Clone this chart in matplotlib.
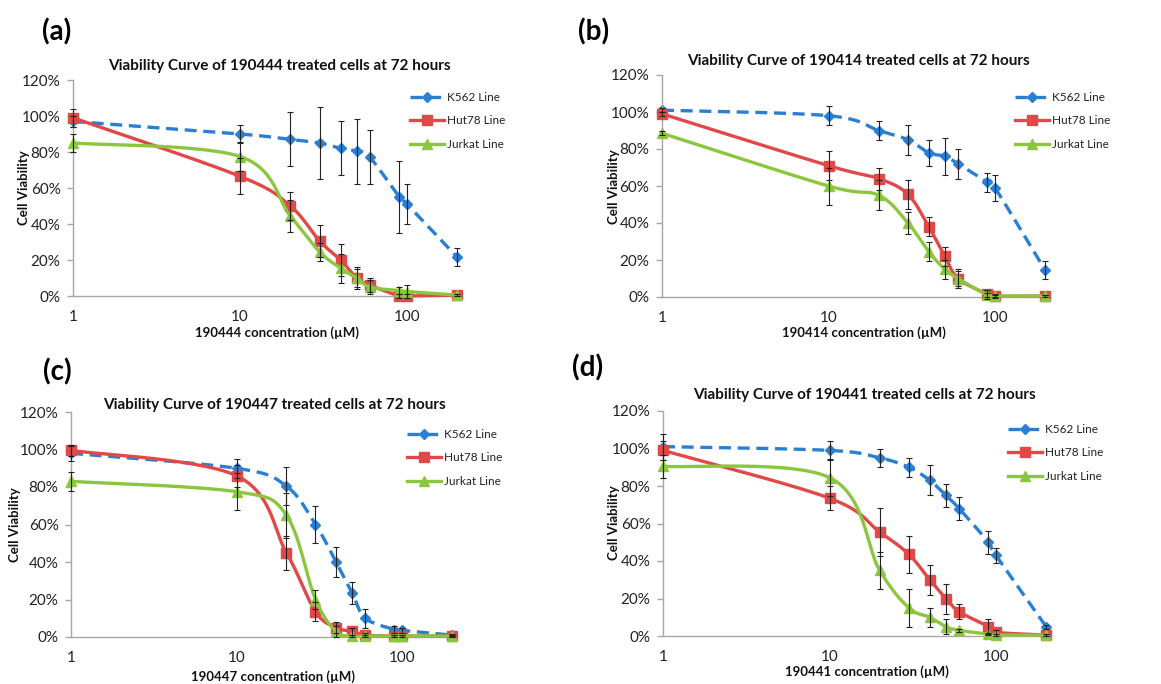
import numpy as np
import matplotlib
matplotlib.use("Agg")
import matplotlib.pyplot as plt
from matplotlib.ticker import FixedLocator, NullLocator, FuncFormatter

plt.rcParams['font.family'] = ['Lato', 'DejaVu Sans']

# ---------------- data ----------------
conc = [1, 10, 20, 30, 40, 50, 60, 90, 100, 200]
series_names = ["K562 Line", "Hut78 Line", "Jurkat Line"]

compounds = ["190444", "190414", "190447", "190441"]
panel_labels = ["(a)", "(b)", "(c)", "(d)"]

# panel (a) 190444
a_k562 = [97, 90, 87, 85, 82, 80.5, 77, 55, 51, 21.5]
a_k562_err = [3, 5, 15, 20, 15, 18, 15, 20, 11, 5]
a_hut78 = [99, 66.5, 50, 30.5, 20, 10, 6, 0, 0, 0.5]
a_hut78_err = [5, 10, 8, 9, 9, 6, 4, 1, 1, 0.5]
a_jurkat = [85, 77.5, 44.5, 24.5, 15.5, 10, 5, 3, 2.5, 0.5]
a_jurkat_err = [5, 8, 9, 5, 8, 5, 4, 2, 3.5, 0.5]

# panel (b) 190414
b_k562 = [101, 98, 90, 85, 78, 76, 72, 62, 59, 14.5]
b_k562_err = [1, 5, 5, 8, 7, 10, 8, 5, 7, 5]
b_hut78 = [99, 71, 64, 55.5, 38, 22, 10, 1.5, 0.5, 0.5]
b_hut78_err = [1, 8, 6, 8, 5, 5, 4, 2.5, 1, 0.5]
b_jurkat = [88.5, 60, 55, 40, 24.5, 15, 10, 1, 0.5, 0.5]
b_jurkat_err = [1, 10, 8, 6, 5, 5, 5, 1, 0.5, 0.5]

# panel (c) 190447
c_k562 = [98, 90, 80.5, 60, 40, 23.5, 10, 4, 3.5, 1]
c_k562_err = [4, 5, 10, 10, 8, 6, 5, 2, 1.5, 0.5]
c_hut78 = [99.5, 86, 45, 13.5, 5, 3, 1, 0.5, 0.5, 0.5]
c_hut78_err = [3, 6, 9, 5, 3, 2, 1, 0.5, 0.5, 0.5]
c_jurkat = [83, 77.5, 65, 20, 3, 0.5, 0.5, 0.5, 0.5, 0.5]
c_jurkat_err = [5, 10, 12, 5, 3, 0.5, 0.5, 0.5, 0.5, 0.5]

# panel (d) 190441
d_k562 = [101, 99, 95, 90, 83, 75, 68, 50, 43, 5]
d_k562_err = [7, 5, 5, 5, 8, 6, 6, 6, 4, 1]
d_hut78 = [99, 73.5, 55.5, 43.5, 30, 20, 13, 5, 2, 0.5]
d_hut78_err = [5, 6.5, 13, 10, 8, 8, 4, 4, 1, 0.5]
d_jurkat = [90.5, 84.5, 35, 15, 10, 5, 3, 1, 0.5, 0.5]
d_jurkat_err = [6, 10, 10, 10, 5, 4, 1, 0.5, 0.5, 0.5]

panels_data = [
    [(a_k562, a_k562_err), (a_hut78, a_hut78_err), (a_jurkat, a_jurkat_err)],
    [(b_k562, b_k562_err), (b_hut78, b_hut78_err), (b_jurkat, b_jurkat_err)],
    [(c_k562, c_k562_err), (c_hut78, c_hut78_err), (c_jurkat, c_jurkat_err)],
    [(d_k562, d_k562_err), (d_hut78, d_hut78_err), (d_jurkat, d_jurkat_err)],
]

# ---------------- layout / style ----------------
W, H = 1161, 684
fig = plt.figure(figsize=(W / 100, H / 100), dpi=100)

layout = [
    dict(ax=(73, 80, 296, 167), title=(279, 66), ylab=(24, 188), xlab=(277, 333), plab=(57, 32), leg=(410, 92)),
    dict(ax=(662, 75, 297, 166.5), title=(858, 61), ylab=(614, 187), xlab=(864, 333), plab=(594, 32), leg=(1015, 92)),
    dict(ax=(71, 412, 637, 165.5), title=(274, 405), ylab=(15, 525), xlab=(273, 677), plab=(57, 372), leg=(407, 429)),
    dict(ax=(663, 411, 636, 166.5), title=(864, 395), ylab=(614, 523), xlab=(867, 672), plab=(588, 368), leg=(1008, 424)),
]

colors = ["#2a7fd4", "#e24848", "#8cc63f"]
styles = [dict(ls=(0, (3.6, 2.0)), marker='D', ms=5.2),
          dict(ls='-', marker='s', ms=7.5),
          dict(ls='-', marker='^', ms=7.0)]
axis_gray = "#a6a6a6"
XMAX = 210


def smooth_curve(ax, x, y, n=30):
    P = ax.transData.transform(np.column_stack([x, y]))
    out = [P[0]]
    t = np.linspace(0, 1, n)[1:, None]
    for i in range(len(P) - 1):
        p0 = P[i - 1] if i > 0 else P[i]
        p1, p2 = P[i], P[i + 1]
        p3 = P[i + 2] if i + 2 < len(P) else P[i + 1]
        c1 = p1 + (p2 - p0) / 6.0
        c2 = p2 - (p3 - p1) / 6.0
        seg = (1 - t) ** 3 * p1 + 3 * (1 - t) ** 2 * t * c1 + 3 * (1 - t) * t ** 2 * c2 + t ** 3 * p2
        out.extend(seg)
    out = np.array(out)
    d = ax.transData.inverted().transform(out)
    return d[:, 0], d[:, 1]


for k in range(4):
    L = layout[k]
    left, top, bottom, dec = L['ax']
    width = dec * np.log10(XMAX)
    ax = fig.add_axes([left / W, 1 - bottom / H, width / W, (bottom - top) / H])
    ax.set_xscale('log')
    ax.set_xlim(1, XMAX)
    ax.set_ylim(0, 120)
    for s in ['top', 'right']:
        ax.spines[s].set_visible(False)
    for s in ['left', 'bottom']:
        ax.spines[s].set_color(axis_gray)
        ax.spines[s].set_linewidth(1.0)
    ax.xaxis.set_major_locator(FixedLocator([1, 10, 100]))
    ax.xaxis.set_minor_locator(NullLocator())
    ax.xaxis.set_major_formatter(FuncFormatter(lambda v, p: f"{v:g}"))
    ax.yaxis.set_major_locator(FixedLocator([0, 20, 40, 60, 80, 100, 120]))
    ax.yaxis.set_major_formatter(FuncFormatter(lambda v, p: f"{v:.0f}%"))
    ax.tick_params(axis='both', colors=axis_gray, labelcolor='#222222', labelsize=11, length=4, width=1.0)
    ax.tick_params(axis='x', pad=10, length=0)
    ax.tick_params(axis='y', pad=5)

    handles = []
    for j, (vals, errs) in enumerate(panels_data[k]):
        sx, sy = smooth_curve(ax, conc, vals)
        st = styles[j]
        ax.plot(sx, sy, color=colors[j], lw=2.4, ls=st['ls'], zorder=2 + j, clip_on=False)
        ax.plot(conc, vals, ls='none', marker=st['marker'], ms=st['ms'], color=colors[j],
                zorder=2.5 + j, clip_on=False)
        h, = ax.plot([], [], color=colors[j], lw=2.4, ls=st['ls'], marker=st['marker'], ms=st['ms'])
        handles.append(h)
    for j, (vals, errs) in enumerate(panels_data[k]):
        ax.errorbar(conc, vals, yerr=errs, fmt='none', ecolor='#222222', elinewidth=0.8,
                    capsize=2.5, capthick=0.8, zorder=10, clip_on=False)

    fig.text(L['title'][0] / W, 1 - L['title'][1] / H,
             f"Viability Curve of {compounds[k]} treated cells at 72 hours",
             ha='center', va='center', fontsize=11, fontweight='bold', color='#111111')
    fig.text(L['ylab'][0] / W, 1 - L['ylab'][1] / H, "Cell Viability", rotation=90,
             ha='center', va='center', fontsize=9.5, fontweight='bold', color='#111111')
    fig.text(L['xlab'][0] / W, 1 - L['xlab'][1] / H, f"{compounds[k]} concentration (µM)",
             ha='center', va='center', fontsize=9.5, fontweight='bold', color='#111111')
    fig.text(L['plab'][0] / W, 1 - L['plab'][1] / H, panel_labels[k],
             ha='center', va='center', fontsize=20, fontweight='bold', color='#000000')
    leg = ax.legend(handles, series_names, loc='upper left',
                    bbox_to_anchor=(L['leg'][0] / W, 1 - L['leg'][1] / H),
                    bbox_transform=fig.transFigure, frameon=False, fontsize=8.5,
                    handlelength=2.9, handletextpad=0.2, labelspacing=1.05, borderpad=0,
                    borderaxespad=0)
    for t in leg.get_texts():
        t.set_color('#222222')

fig.savefig("out.png", dpi=100)
